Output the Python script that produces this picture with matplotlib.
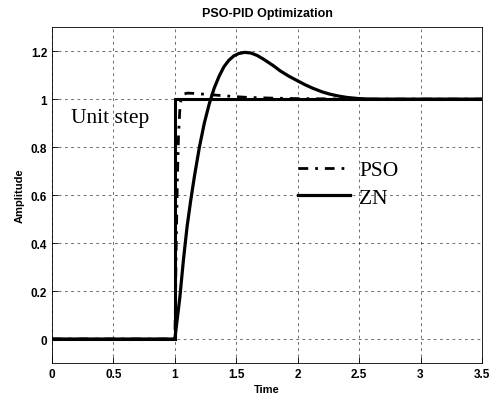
import numpy as np
import matplotlib
matplotlib.use('Agg')
import matplotlib.pyplot as plt

# unit step reference
t_step = [0.0, 1.0, 1.0, 3.5]
y_step = [0.0, 0.0, 1.0, 1.0]

# PSO tuned PID response
t_pso = [0.0, 1.0, 1.005, 1.01, 1.02, 1.03, 1.04, 1.05, 1.07, 1.1, 1.15, 1.2, 1.3,
         1.4, 1.5, 1.6, 1.8, 2.0, 2.5, 3.0, 3.5]
y_pso = [0.0, 0.0, 0.15, 0.35, 0.65, 0.85, 0.95, 1.0, 1.02, 1.025, 1.024, 1.022, 1.018,
         1.014, 1.01, 1.007, 1.004, 1.002, 1.0, 1.0, 1.0]

# Ziegler-Nichols tuned PID response
t_zn = [0.0, 1.0, 1.02, 1.04, 1.07, 1.1, 1.13, 1.16, 1.2, 1.24, 1.28, 1.32, 1.36, 1.4,
        1.44, 1.48, 1.52, 1.57, 1.62, 1.67, 1.72, 1.8, 1.86, 1.93, 2.0, 2.06, 2.12,
        2.2, 2.26, 2.33, 2.4, 2.5, 2.6, 2.8, 3.5]
y_zn = [0.0, 0.0, 0.085, 0.17, 0.33, 0.47, 0.58, 0.68, 0.8, 0.9, 0.98, 1.045, 1.095, 1.135,
        1.162, 1.18, 1.19, 1.195, 1.192, 1.182, 1.167, 1.14, 1.117, 1.095, 1.076, 1.06, 1.046,
        1.03, 1.021, 1.013, 1.007, 1.002, 1.0, 1.0, 1.0]

xticks = [0, 0.5, 1, 1.5, 2, 2.5, 3, 3.5]
yticks = [0, 0.2, 0.4, 0.6, 0.8, 1, 1.2]

plt.rcParams['font.family'] = 'Liberation Sans'

fig = plt.figure(figsize=(5.02, 4.02), dpi=100)
ax = fig.add_axes([0.1036, 0.0945, 0.8564, 0.8355])

ax.plot(t_step, y_step, color='black', lw=2.2, solid_joinstyle='miter')
ax.plot(t_pso, y_pso, color='black', lw=2.0, linestyle=(0, (3.5, 2.5, 1, 2.5)), label='PSO')
ax.plot(t_zn, y_zn, color='black', lw=2.3, label='ZN')

ax.set_xlim(0, 3.5)
ax.set_ylim(-0.1, 1.3)
ax.set_xticks(xticks)
ax.set_xticklabels(['0', '0.5', '1', '1.5', '2', '2.5', '3', '3.5'], fontweight='bold')
ax.set_yticks(yticks)
ax.set_yticklabels(['0', '0.2', '0.4', '0.6', '0.8', '1', '1.2'], fontweight='bold')
ax.tick_params(direction='in', length=4, width=0.6, labelsize=8.5)
ax.grid(True, color='black', linestyle=(0, (4, 5)), linewidth=0.5, alpha=0.8)
for s in ax.spines.values():
    s.set_linewidth(0.6)

ax.set_title('PSO-PID Optimization', fontsize=9, fontweight='bold', pad=8)
ax.set_xlabel('Time', fontsize=8, fontweight='bold', labelpad=3)
ax.set_ylabel('Amplitude', fontsize=8, fontweight='bold', labelpad=4)

ax.text(0.155, 0.925, 'Unit step', fontsize=15.5, family='Liberation Serif', va='center')

leg = ax.legend(loc='upper left', bbox_to_anchor=(2.0, 0.745), bbox_transform=ax.transData,
                frameon=False, prop={'family': 'Liberation Serif', 'size': 15.5},
                handlelength=2.45, handletextpad=0.4, labelspacing=0.35,
                borderpad=0, borderaxespad=0)

fig.savefig('out.png', dpi=100)
